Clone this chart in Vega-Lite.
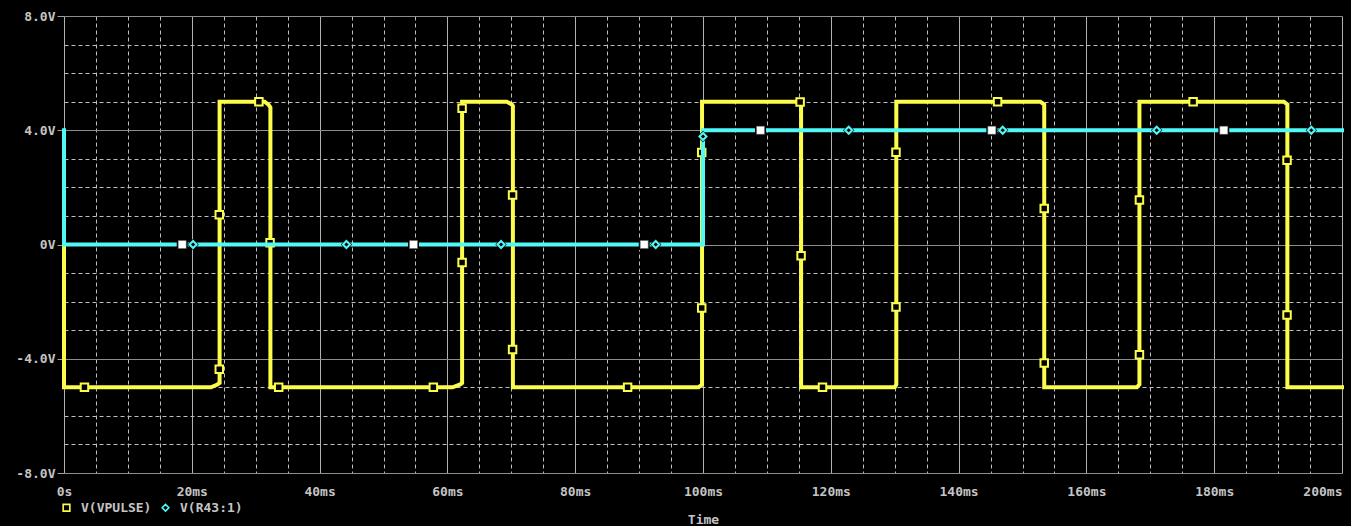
{
  "$schema": "https://vega.github.io/schema/vega-lite/v6.json",
  "width": 1278,
  "height": 457,
  "autosize": "none",
  "padding": {"left": 64, "top": 16, "right": 9, "bottom": 53},
  "background": "#000000",
  "config": {"view": {"stroke": null}, "font": "DejaVu Sans Mono"},
  "datasets": {
    "pulse": [
      {"t": 0, "v": 0}, {"t": 0, "v": -5}, {"t": 23.0, "v": -5}, {"t": 24.0, "v": -4.9}, {"t": 24.35, "v": -4.85}, {"t": 24.35, "v": 5},
      {"t": 31.4, "v": 5}, {"t": 32.0, "v": 4.9}, {"t": 32.3, "v": 4.8}, {"t": 32.3, "v": -5},
      {"t": 60.8, "v": -5}, {"t": 62.0, "v": -4.9}, {"t": 62.3, "v": -4.85}, {"t": 62.3, "v": 5},
      {"t": 69.3, "v": 5}, {"t": 70.1, "v": 4.9}, {"t": 70.25, "v": 4.85}, {"t": 70.25, "v": -5},
      {"t": 99.3, "v": -5}, {"t": 99.85, "v": -4.9}, {"t": 99.85, "v": 5},
      {"t": 114.9, "v": 5}, {"t": 115.35, "v": 4.9}, {"t": 115.35, "v": -5},
      {"t": 130.0, "v": -5}, {"t": 130.25, "v": -4.9}, {"t": 130.25, "v": 5},
      {"t": 152.8, "v": 5}, {"t": 153.4, "v": 4.9}, {"t": 153.4, "v": -5},
      {"t": 167.9, "v": -5}, {"t": 168.3, "v": -4.9}, {"t": 168.3, "v": 5},
      {"t": 190.9, "v": 5}, {"t": 191.45, "v": 4.9}, {"t": 191.45, "v": -5},
      {"t": 200, "v": -5}
    ],
    "r43": [
      {"t": 0, "v": 4}, {"t": 0, "v": 0}, {"t": 100, "v": 0}, {"t": 100, "v": 4}, {"t": 200, "v": 4}
    ],
    "pulseMarks": [
      {"t": 3.2, "v": -5, "series": "V(VPULSE)"}, {"t": 24.3, "v": -4.37, "series": "V(VPULSE)"}, {"t": 24.3, "v": 1.04, "series": "V(VPULSE)"},
      {"t": 30.5, "v": 5, "series": "V(VPULSE)"}, {"t": 32.25, "v": 0.06, "series": "V(VPULSE)"}, {"t": 33.6, "v": -5, "series": "V(VPULSE)"},
      {"t": 57.8, "v": -5, "series": "V(VPULSE)"}, {"t": 62.3, "v": -0.63, "series": "V(VPULSE)"}, {"t": 62.3, "v": 4.77, "series": "V(VPULSE)"},
      {"t": 70.2, "v": 1.73, "series": "V(VPULSE)"}, {"t": 70.2, "v": -3.68, "series": "V(VPULSE)"}, {"t": 88.2, "v": -5, "series": "V(VPULSE)"},
      {"t": 99.8, "v": -2.22, "series": "V(VPULSE)"}, {"t": 99.8, "v": 3.22, "series": "V(VPULSE)"}, {"t": 115.2, "v": 4.99, "series": "V(VPULSE)"},
      {"t": 115.35, "v": -0.39, "series": "V(VPULSE)"}, {"t": 118.7, "v": -5, "series": "V(VPULSE)"}, {"t": 130.2, "v": -2.19, "series": "V(VPULSE)"},
      {"t": 130.2, "v": 3.23, "series": "V(VPULSE)"}, {"t": 146.1, "v": 5, "series": "V(VPULSE)"}, {"t": 153.4, "v": 1.26, "series": "V(VPULSE)"},
      {"t": 153.4, "v": -4.15, "series": "V(VPULSE)"}, {"t": 168.3, "v": -3.86, "series": "V(VPULSE)"}, {"t": 168.3, "v": 1.56, "series": "V(VPULSE)"},
      {"t": 176.7, "v": 5, "series": "V(VPULSE)"}, {"t": 191.4, "v": 2.95, "series": "V(VPULSE)"}, {"t": 191.4, "v": -2.47, "series": "V(VPULSE)"}
    ],
    "r43Marks": [
      {"t": 20.2, "v": 0, "series": "V(R43:1)"}, {"t": 44.2, "v": 0, "series": "V(R43:1)"}, {"t": 68.4, "v": 0, "series": "V(R43:1)"},
      {"t": 92.6, "v": 0, "series": "V(R43:1)"}, {"t": 100.0, "v": 3.78, "series": "V(R43:1)"}, {"t": 122.8, "v": 4, "series": "V(R43:1)"},
      {"t": 146.9, "v": 4, "series": "V(R43:1)"}, {"t": 171.0, "v": 4, "series": "V(R43:1)"}, {"t": 195.2, "v": 4, "series": "V(R43:1)"}
    ],
    "whiteMarks": [
      {"t": 18.5, "v": 0}, {"t": 54.7, "v": 0}, {"t": 90.8, "v": 0},
      {"t": 109.0, "v": 4}, {"t": 145.2, "v": 4}, {"t": 181.5, "v": 4}
    ]
  },
  "encoding": {
    "x": {
      "field": "t", "type": "quantitative",
      "scale": {"domain": [0, 200], "nice": false, "zero": false},
      "axis": {
        "values": [0,5,10,15,20,25,30,35,40,45,50,55,60,65,70,75,80,85,90,95,100,105,110,115,120,125,130,135,140,145,150,155,160,165,170,175,180,185,190,195,200],
        "grid": true,
        "gridColor": {"condition": {"test": "datum.value % 20 === 0", "value": "#b0b0b0"}, "value": "#bdbdbd"},
        "gridDash": {"condition": {"test": "datum.value % 20 === 0", "value": []}, "value": [4, 3]},
        "gridWidth": 1,
        "domain": false,
        "ticks": false,
        "tickSize": 0,
        "labelExpr": "datum.value % 20 === 0 ? (datum.value === 0 ? '0s' : datum.value + 'ms') : ''",
        "labelAlign": {"condition": {"test": "datum.value === 200", "value": "right"}, "value": "center"},
        "labelOverlap": false,
        "labelFont": "DejaVu Sans Mono",
        "labelFontSize": 13,
        "labelFontWeight": "bold",
        "labelColor": "#c4c4c4",
        "labelPadding": 12,
        "labelBaseline": "top",
        "title": "Time",
        "titleFont": "DejaVu Sans Mono",
        "titleFontSize": 13,
        "titleFontWeight": "bold",
        "titleColor": "#c4c4c4",
        "titlePadding": 15
      }
    },
    "y": {
      "field": "v", "type": "quantitative",
      "scale": {"domain": [-8, 8], "nice": false, "zero": false},
      "axis": {
        "values": [-8,-7,-6,-5,-4,-3,-2,-1,0,1,2,3,4,5,6,7,8],
        "grid": true,
        "gridColor": {"condition": {"test": "datum.value % 4 === 0", "value": "#8c8c8c"}, "value": "#bdbdbd"},
        "gridDash": {"condition": {"test": "datum.value % 4 === 0", "value": []}, "value": [4, 3]},
        "gridWidth": 1,
        "domain": false,
        "ticks": true,
        "tickSize": 7,
        "tickColor": "#a0a0a0",
        "tickOpacity": {"condition": {"test": "datum.value % 4 === 0", "value": 1}, "value": 0},
        "labelExpr": "datum.value % 4 === 0 ? (datum.value === 0 ? '0V' : (datum.value < 0 ? '-' : '') + format(abs(datum.value), '.1f') + 'V') : ''",
        "labelOverlap": false,
        "labelFont": "DejaVu Sans Mono",
        "labelFontSize": 13,
        "labelFontWeight": "bold",
        "labelColor": "#c4c4c4",
        "labelPadding": 2,
        "title": null
      }
    }
  },
  "layer": [
    {
      "data": {"name": "pulse"},
      "mark": {"type": "line", "color": "#fcfc4c", "strokeWidth": 4, "strokeJoin": "miter", "strokeCap": "square"},
      "encoding": {"order": {"value": null}}
    },
    {
      "data": {"name": "pulseMarks"},
      "mark": {"type": "point", "filled": true, "fill": "#000000", "strokeWidth": 2, "size": 56, "opacity": 1},
      "encoding": {
        "shape": {
          "field": "series", "type": "nominal",
          "scale": {"domain": ["V(VPULSE)", "V(R43:1)"], "range": ["square", "diamond"]},
          "legend": {
            "orient": "none", "legendX": -4, "legendY": 485, "direction": "horizontal",
            "title": null, "padding": 0,
            "labelFont": "DejaVu Sans Mono", "labelFontSize": 13, "labelFontWeight": "bold", "labelColor": "#c4c4c4",
            "symbolSize": 45, "symbolStrokeWidth": 1.6, "symbolFillColor": "transparent", "labelOffset": 8, "columnPadding": 6
          }
        },
        "stroke": {
          "field": "series", "type": "nominal",
          "scale": {"domain": ["V(VPULSE)", "V(R43:1)"], "range": ["#fcfc4c", "#50f8f8"]},
          "legend": {
            "orient": "none", "legendX": -4, "legendY": 485, "direction": "horizontal",
            "title": null, "padding": 0,
            "labelFont": "DejaVu Sans Mono", "labelFontSize": 13, "labelFontWeight": "bold", "labelColor": "#c4c4c4",
            "symbolSize": 45, "symbolStrokeWidth": 1.6, "symbolFillColor": "transparent", "labelOffset": 8, "columnPadding": 6
          }
        }
      }
    },
    {
      "data": {"name": "r43"},
      "mark": {"type": "line", "color": "#50f8f8", "strokeWidth": 4, "strokeJoin": "miter", "strokeCap": "square"},
      "encoding": {"order": {"value": null}}
    },
    {
      "data": {"name": "r43Marks"},
      "mark": {"type": "point", "shape": "diamond", "filled": true, "fill": "#000000", "stroke": null, "size": 130, "opacity": 1},
      "encoding": {}
    },
    {
      "data": {"name": "whiteMarks"},
      "mark": {"type": "point", "shape": "square", "filled": true, "fill": "#000000", "stroke": null, "size": 120, "opacity": 1},
      "encoding": {}
    },
    {
      "data": {"name": "r43Marks"},
      "mark": {"type": "point", "filled": true, "fill": "#000000", "strokeWidth": 2, "size": 50, "opacity": 1},
      "encoding": {
        "shape": {"field": "series", "type": "nominal"},
        "stroke": {"field": "series", "type": "nominal"}
      }
    },
    {
      "data": {"name": "whiteMarks"},
      "mark": {"type": "point", "shape": "square", "filled": true, "fill": "#ffffff", "stroke": "#606060", "strokeWidth": 0.5, "size": 64, "opacity": 1},
      "encoding": {}
    }
  ]
}
